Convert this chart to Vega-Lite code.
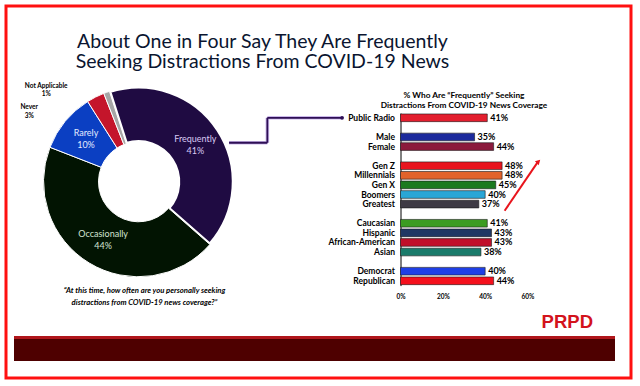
{
  "$schema": "https://vega.github.io/schema/vega-lite/v6.json",
  "padding": {"left": 4, "top": 4, "right": 0, "bottom": 0},
  "background": "white",
  "bounds": "flush",
  "spacing": 0,
  "config": {"view": {"stroke": null}, "font": "Lato", "title": {"font": "Lato"}, "axis": {"labelFont": "Lato"}},
  "datasets": {
    "donut": [
      {"response": "Frequently", "share": 0.41, "rank": 1},
      {"response": "Occasionally", "share": 0.44, "rank": 2},
      {"response": "Rarely", "share": 0.10, "rank": 3},
      {"response": "Never", "share": 0.03, "rank": 4},
      {"response": "Not Applicable", "share": 0.01, "rank": 5}
    ],
    "bars": [
      {"group": "Public Radio", "pct": 0.41},
      {"group": "Male", "pct": 0.35},
      {"group": "Female", "pct": 0.44},
      {"group": "Gen Z", "pct": 0.48},
      {"group": "Millennials", "pct": 0.48},
      {"group": "Gen X", "pct": 0.45},
      {"group": "Boomers", "pct": 0.40},
      {"group": "Greatest", "pct": 0.37},
      {"group": "Caucasian", "pct": 0.41},
      {"group": "Hispanic", "pct": 0.43},
      {"group": "African-American", "pct": 0.43},
      {"group": "Asian", "pct": 0.38},
      {"group": "Democrat", "pct": 0.40},
      {"group": "Republican", "pct": 0.44}
    ]
  },
  "hconcat": [
    {
      "bounds": "flush",
      "spacing": 0,
      "vconcat": [
        {
          "width": 513,
          "height": 1,
          "data": {"values": []},
          "mark": "point",
          "title": {
            "text": ["About One in Four Say They Are Frequently", "Seeking Distractions From COVID-19 News"],
            "orient": "bottom",
            "anchor": "middle",
            "offset": 25.5,
            "fontSize": 19.5,
            "fontWeight": "normal",
            "lineHeight": 20.5,
            "color": "#0a1530",
            "font": "Lato"
          }
        },
        {"width": 1, "height": 105.7, "data": {"values": []}, "mark": "point"},
        {
          "bounds": "flush",
          "spacing": 129.5,
          "resolve": {"scale": {"color": "independent"}},
          "hconcat": [
            {
              "width": 265,
              "height": 137.6,
              "data": {"name": "donut"},
              "title": {
                "text": ["“At this time, how often are you personally seeking", "distractions from COVID-19 news coverage?”"],
                "orient": "bottom",
                "anchor": "middle",
                "offset": 36,
                "dx": 6,
                "dy": -68,
                "fontSize": 7.7,
                "fontStyle": "italic",
                "fontWeight": "bold",
                "lineHeight": 12,
                "color": "#000000",
                "font": "Lato"
              },
              "encoding": {
                "theta": {"field": "share", "type": "quantitative", "stack": true, "scale": {"range": [-0.3107, 5.9725]}},
                "order": {"field": "rank", "type": "quantitative"}
              },
              "layer": [
                {
                  "mark": {"type": "arc", "innerRadius": 40, "outerRadius": 95, "stroke": "white"},
                  "encoding": {
                    "color": {
                      "field": "response",
                      "type": "nominal",
                      "scale": {
                        "domain": ["Frequently", "Occasionally", "Rarely", "Never", "Not Applicable"],
                        "range": ["#1f0b42", "#021402", "#0b3fc2", "#c4152b", "#a6a6a6"]
                      },
                      "legend": null
                    },
                    "strokeWidth": {"condition": {"test": "datum.response === 'Frequently'", "value": 3.5}, "value": 1}
                  }
                },
                {
                  "mark": {"type": "text", "radius": 68, "dy": -6, "fontSize": 9, "font": "Lato"},
                  "encoding": {
                    "text": {"condition": {"test": "datum.share < 0.05", "value": ""}, "field": "response", "type": "nominal"},
                    "color": {"condition": [{"test": "datum.response === 'Frequently'", "value": "#d9c9f3"}, {"test": "datum.response === 'Rarely'", "value": "#e3e9ff"}], "value": "#d2e3d2"}
                  }
                },
                {
                  "mark": {"type": "text", "radius": 68, "dy": 6, "fontSize": 9, "font": "Lato"},
                  "encoding": {
                    "text": {"condition": {"test": "datum.share < 0.05", "value": ""}, "field": "share", "type": "quantitative", "format": ".0%"},
                    "color": {"condition": [{"test": "datum.response === 'Frequently'", "value": "#d9c9f3"}, {"test": "datum.response === 'Rarely'", "value": "#e3e9ff"}], "value": "#d2e3d2"}
                  }
                },
                {
                  "mark": {"type": "text", "radius": 130, "thetaOffset": -0.447, "dy": -4.2, "fontSize": 6.5, "fontWeight": "bold", "color": "#000000"},
                  "encoding": {
                    "text": {"condition": {"test": "datum.response !== 'Not Applicable'", "value": ""}, "field": "response", "type": "nominal"}
                  }
                },
                {
                  "mark": {"type": "text", "radius": 130, "thetaOffset": -0.447, "dy": 4.2, "fontSize": 6.5, "fontWeight": "bold", "color": "#000000"},
                  "encoding": {
                    "text": {"condition": {"test": "datum.response !== 'Not Applicable'", "value": ""}, "field": "share", "type": "quantitative", "format": ".0%"}
                  }
                },
                {
                  "mark": {"type": "text", "radius": 130, "thetaOffset": -0.529, "dy": -4.2, "fontSize": 6.5, "fontWeight": "bold", "color": "#000000"},
                  "encoding": {
                    "text": {"condition": {"test": "datum.response !== 'Never'", "value": ""}, "field": "response", "type": "nominal"}
                  }
                },
                {
                  "mark": {"type": "text", "radius": 130, "thetaOffset": -0.529, "dy": 4.2, "fontSize": 6.5, "fontWeight": "bold", "color": "#000000"},
                  "encoding": {
                    "text": {"condition": {"test": "datum.response !== 'Never'", "value": ""}, "field": "share", "type": "quantitative", "format": ".0%"}
                  }
                }
              ]
            },
            {
              "width": 127,
              "height": 172.6,
              "data": {"name": "bars"},
              "title": {
                "text": ["% Who Are “Frequently” Seeking", "Distractions From COVID-19 News Coverage"],
                "anchor": "middle",
                "offset": 4,
                "fontSize": 8.3,
                "fontWeight": "bold",
                "lineHeight": 9.5,
                "color": "#000000",
                "font": "Lato"
              },
              "encoding": {
                "y": {
                  "field": "group",
                  "type": "nominal",
                  "scale": {
                    "domain": ["Public Radio", " ", "Male", "Female", "  ", "Gen Z", "Millennials", "Gen X", "Boomers", "Greatest", "   ", "Caucasian", "Hispanic", "African-American", "Asian", "    ", "Democrat", "Republican"],
                    "paddingInner": 0.2,
                    "paddingOuter": 0.1
                  },
                  "axis": {"title": null, "domain": true, "domainColor": "#000000", "domainWidth": 1, "ticks": false, "labelFontSize": 8.5, "labelFontWeight": "bold", "labelPadding": 6, "labelColor": "#000000", "labelFont": "Lato"}
                }
              },
              "layer": [
                {
                  "mark": {"type": "bar", "stroke": "#1a1a1a", "strokeWidth": 0.6},
                  "encoding": {
                    "x": {
                      "field": "pct",
                      "type": "quantitative",
                      "scale": {"domain": [0, 0.6]},
                      "axis": {"title": null, "values": [0, 0.2, 0.4, 0.6], "format": ".0%", "grid": false, "domain": false, "ticks": false, "labelFontSize": 6.5, "labelFontWeight": "bold", "labelPadding": 8, "labelColor": "#000000", "labelFlush": false, "labelFont": "Lato"}
                    },
                    "color": {
                      "field": "group",
                      "type": "nominal",
                      "scale": {
                        "domain": ["Public Radio", "Male", "Female", "Gen Z", "Millennials", "Gen X", "Boomers", "Greatest", "Caucasian", "Hispanic", "African-American", "Asian", "Democrat", "Republican"],
                        "range": ["#e31e2e", "#1c2a9c", "#8b1a3c", "#e8141e", "#e2622a", "#1c7a1e", "#2aa6d6", "#3e3a44", "#3c9c22", "#1f3864", "#c00f2a", "#1a7b6b", "#1e3fe6", "#f4101c"]
                      },
                      "legend": null
                    }
                  }
                },
                {
                  "mark": {"type": "text", "align": "left", "dx": 3, "fontSize": 9, "fontWeight": "bold", "color": "#000000", "font": "Lato"},
                  "encoding": {
                    "x": {"field": "pct", "type": "quantitative", "scale": {"domain": [0, 0.6]}},
                    "text": {"field": "pct", "type": "quantitative", "format": ".0%"}
                  }
                },
                {
                  "data": {"values": [{}]},
                  "mark": {"type": "rule", "color": "#e8141c", "strokeWidth": 2},
                  "encoding": {
                    "x": {"datum": 0.492, "type": "quantitative", "scale": {"domain": [0, 0.6]}},
                    "x2": {"datum": 0.649},
                    "y": {"datum": "   ", "type": "nominal", "bandPosition": 0.12},
                    "y2": {"datum": "Gen Z", "bandPosition": 0}
                  }
                },
                {
                  "data": {"values": [{}]},
                  "mark": {"type": "point", "shape": "triangle-up", "angle": 45, "filled": true, "opacity": 1, "size": 30, "color": "#e8141c"},
                  "encoding": {
                    "x": {"datum": 0.652, "type": "quantitative", "scale": {"domain": [0, 0.6]}},
                    "y": {"datum": "Gen Z", "type": "nominal", "bandPosition": -0.05}
                  }
                },
                {
                  "data": {"values": [{}]},
                  "mark": {"type": "rule", "color": "#cbb8ea", "strokeWidth": 3.6},
                  "encoding": {
                    "x": {"datum": -0.81, "type": "quantitative", "scale": {"domain": [0, 0.6]}},
                    "x2": {"datum": -0.629},
                    "y": {"datum": "Female", "type": "nominal", "bandPosition": 0}
                  }
                },
                {
                  "data": {"values": [{}]},
                  "mark": {"type": "rule", "color": "#cbb8ea", "strokeWidth": 3.6},
                  "encoding": {
                    "x": {"datum": -0.629, "type": "quantitative", "scale": {"domain": [0, 0.6]}},
                    "y": {"datum": "Public Radio", "type": "nominal", "bandPosition": 0.5},
                    "y2": {"datum": "Female", "bandPosition": 0}
                  }
                },
                {
                  "data": {"values": [{}]},
                  "mark": {"type": "rule", "color": "#cbb8ea", "strokeWidth": 3.6},
                  "encoding": {
                    "x": {"datum": -0.629, "type": "quantitative", "scale": {"domain": [0, 0.6]}},
                    "x2": {"datum": -0.276},
                    "y": {"datum": "Public Radio", "type": "nominal", "bandPosition": 0.5}
                  }
                },
                {
                  "data": {"values": [{}]},
                  "mark": {"type": "rule", "color": "#2e0f55", "strokeWidth": 1.8},
                  "encoding": {
                    "x": {"datum": -0.81, "type": "quantitative", "scale": {"domain": [0, 0.6]}},
                    "x2": {"datum": -0.629},
                    "y": {"datum": "Female", "type": "nominal", "bandPosition": 0}
                  }
                },
                {
                  "data": {"values": [{}]},
                  "mark": {"type": "rule", "color": "#2e0f55", "strokeWidth": 1.8},
                  "encoding": {
                    "x": {"datum": -0.629, "type": "quantitative", "scale": {"domain": [0, 0.6]}},
                    "y": {"datum": "Public Radio", "type": "nominal", "bandPosition": 0.5},
                    "y2": {"datum": "Female", "bandPosition": 0}
                  }
                },
                {
                  "data": {"values": [{}]},
                  "mark": {"type": "rule", "color": "#2e0f55", "strokeWidth": 1.8},
                  "encoding": {
                    "x": {"datum": -0.629, "type": "quantitative", "scale": {"domain": [0, 0.6]}},
                    "x2": {"datum": -0.276},
                    "y": {"datum": "Public Radio", "type": "nominal", "bandPosition": 0.5}
                  }
                },
                {
                  "data": {"values": [{}]},
                  "mark": {"type": "point", "filled": true, "opacity": 1, "size": 14, "color": "#2e0f55"},
                  "encoding": {
                    "x": {"datum": -0.276, "type": "quantitative", "scale": {"domain": [0, 0.6]}},
                    "y": {"datum": "Public Radio", "type": "nominal", "bandPosition": 0.5}
                  }
                }
              ]
            }
          ]
        },
        {"width": 1, "height": 222.8, "data": {"values": []}, "mark": "point"},
        {
          "bounds": "flush",
          "spacing": 0,
          "hconcat": [
            {"width": 7.5, "height": 1, "data": {"values": []}, "mark": "point"},
            {
              "bounds": "flush",
              "spacing": 0,
              "vconcat": [
                {
                  "width": 601,
                  "height": 3,
                  "data": {"values": []},
                  "mark": "point",
                  "view": {"fill": "#b0161b", "stroke": null},
                  "title": {"text": "PRPD", "orient": "top", "anchor": "end", "dx": -22, "offset": 5, "fontSize": 18.5, "font": "Liberation Sans", "fontWeight": "bold", "color": "#d3131c"}
                },
                {
                  "width": 601,
                  "height": 22,
                  "data": {"values": []},
                  "mark": "point",
                  "view": {"fill": "#4e0000", "stroke": null}
                }
              ]
            }
          ]
        }
      ]
    },
    {
      "width": 625,
      "height": 372,
      "view": {"stroke": "#ff1010", "strokeWidth": 3},
      "data": {"values": []},
      "mark": "point"
    }
  ]
}
